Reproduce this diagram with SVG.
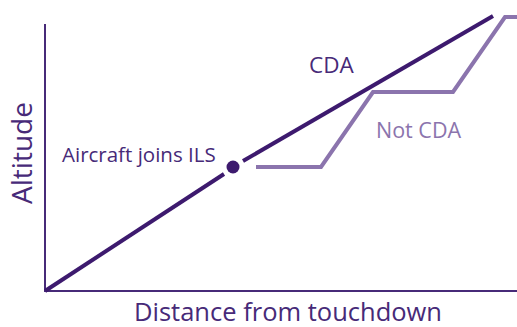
<svg xmlns="http://www.w3.org/2000/svg" width="517" height="327" viewBox="0 0 517 327">
<style>
.axis{stroke:#472a78;stroke-width:2;fill:none}
.cda{stroke:#3d1a6e;stroke-width:4;fill:none}
.ncda{stroke:#8b74ad;stroke-width:4;fill:none;stroke-linejoin:miter}
.t{font-family:"Open Sans","Liberation Sans",sans-serif}
</style>
<rect width="517" height="327" fill="#fff"/>
<g id="axes">
<path class="axis" d="M45,24 V291 H517"/>
<text class="t" x="134" y="321" font-size="25.5" fill="#472a78">Distance from touchdown</text>
<text class="t" transform="translate(32,153) rotate(-90)" text-anchor="middle" font-size="28" fill="#472a78">Altitude</text>
</g>
<g id="connectors">
<path class="cda" d="M45,291 L224,174"/>
<path class="cda" d="M243,161 L493,16"/>
<path class="ncda" d="M256,167 H321 L373,92 H453 L505,17 H517"/>
</g>
<g id="ils">
<circle cx="233" cy="167" r="6.5" fill="#3d1a6e"/>
<text class="t" x="62" y="162" font-size="20.5" fill="#472a78">Aircraft joins ILS</text>
</g>
<g id="cda-label"><text class="t" x="309" y="73" font-size="22.5" fill="#472a78">CDA</text></g>
<g id="notcda-label"><text class="t" x="376" y="138" font-size="21.5" fill="#8b74ad">Not CDA</text></g>
</svg>
